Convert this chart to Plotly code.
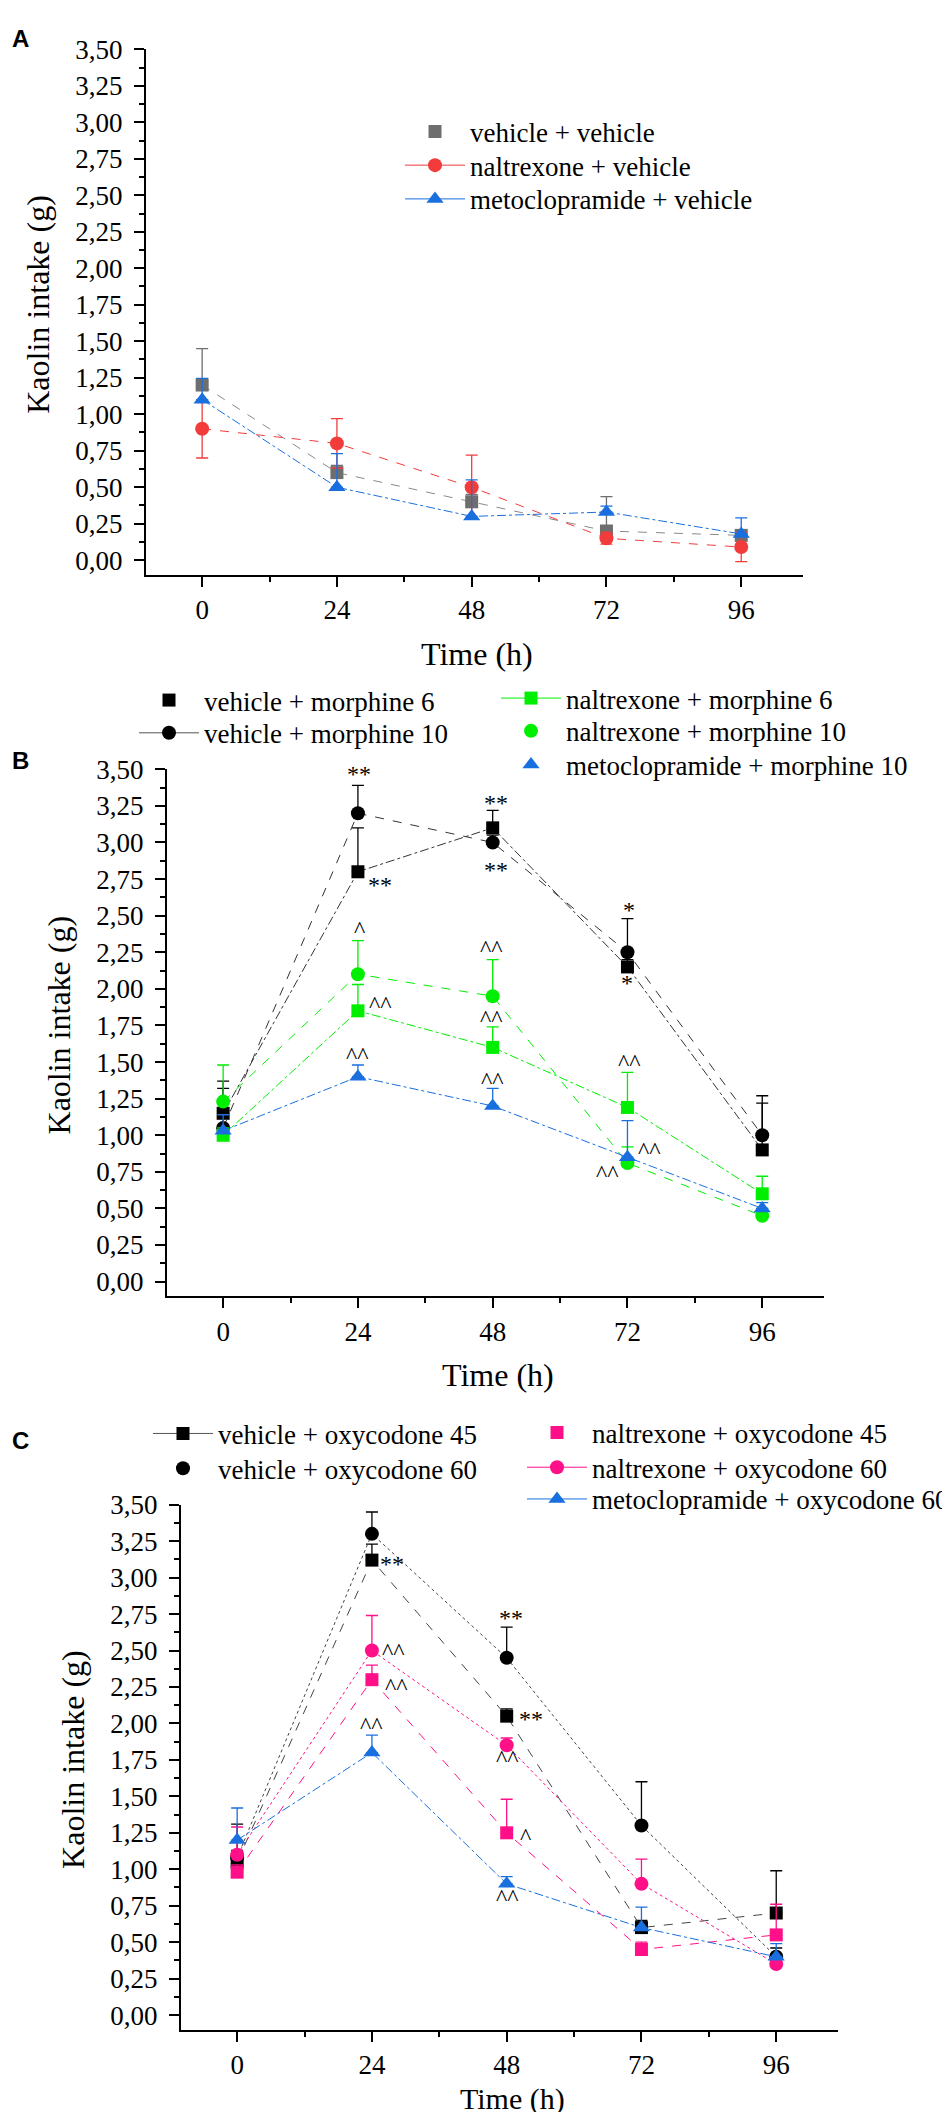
import plotly.graph_objects as go
from plotly.subplots import make_subplots

# time points (h)
hours = [0, 24, 48, 72, 96]

# Panel A - controls
veh_veh = [1.20, 0.60, 0.40, 0.20, 0.17]
veh_veh_err = [0.25, 0.05, 0.05, 0.235, 0.03]
nal_veh = [0.90, 0.80, 0.50, 0.15, 0.09]
nal_veh_err = [0.20, 0.17, 0.22, 0.04, 0.10]
met_veh = [1.10, 0.50, 0.30, 0.33, 0.18]
met_veh_err = [0.145, 0.23, 0.25, 0.04, 0.11]

# Panel B - morphine
veh_m6 = [1.15, 2.80, 3.10, 2.15, 0.90]
veh_m6_err = [0.17, 0.30, 0.12, 0.05, 0.32]
veh_m10 = [1.05, 3.20, 3.00, 2.25, 1.00]
veh_m10_err = [0.32, 0.19, 0.05, 0.23, 0.27]
nal_m6 = [1.00, 1.85, 1.60, 1.19, 0.60]
nal_m6_err = [0.05, 0.18, 0.14, 0.24, 0.12]
nal_m10 = [1.23, 2.10, 1.95, 0.81, 0.45]
nal_m10_err = [0.25, 0.23, 0.25, 0.11, 0.05]
met_m10 = [1.03, 1.40, 1.20, 0.85, 0.50]
met_m10_err = [0.11, 0.08, 0.12, 0.25, 0.04]

# Panel C - oxycodone
veh_o45 = [1.05, 3.12, 2.05, 0.60, 0.70]
veh_o45_err = [0.26, 0.11, 0.05, 0.05, 0.29]
veh_o60 = [1.08, 3.30, 2.45, 1.30, 0.40]
veh_o60_err = [0.05, 0.15, 0.21, 0.30, 0.06]
nal_o45 = [0.98, 2.30, 1.25, 0.45, 0.55]
nal_o45_err = [0.05, 0.10, 0.23, 0.05, 0.21]
nal_o60 = [1.10, 2.50, 1.85, 0.90, 0.35]
nal_o60_err = [0.19, 0.24, 0.05, 0.17, 0.05]
met_o60 = [1.20, 1.80, 0.90, 0.60, 0.40]
met_o60_err = [0.22, 0.12, 0.05, 0.14, 0.09]

# significance marks (hour, value, text)
marks_B = [(24.2, 3.47, "**"), (27.9, 2.71, "**"), (48.5, 3.27, "**"), (48.5, 2.81, "**"),
           (72.2, 2.54, "*"), (72.0, 2.04, "*"), (24.2, 2.41, "^"), (28.1, 1.90, "^^"),
           (24.0, 1.55, "^^"), (47.8, 2.28, "^^"), (47.8, 1.80, "^^"), (47.9, 1.38, "^^"),
           (72.4, 1.50, "^^"), (75.9, 0.90, "^^"), (68.4, 0.74, "^^")]
marks_C = [(24.5, 3.51, "**"), (27.6, 3.09, "**"), (48.7, 2.72, "**"), (52.3, 2.03, "**"),
           (27.9, 2.50, "^^"), (28.3, 2.26, "^^"), (24.0, 1.99, "^^"), (48.2, 1.76, "^^"),
           (51.4, 1.23, "^"), (48.2, 0.81, "^^")]

FONT = "Liberation Serif"
gray = "#6e6e6e"
red = "#f23c3c"
blue = "#1a6fdf"
green = "#00ee00"
pink = "#ff1088"
black = "#000000"

W, H = 950, 2112

fig = make_subplots(rows=3, cols=1)


def add_series(row, y, err, color, symbol, size, dash, linecolor=None, both=False):
    fig.add_trace(go.Scatter(
        x=hours, y=y, mode="lines+markers",
        line=dict(color=linecolor or color, width=1, dash=dash),
        marker=dict(color=color, symbol=symbol, size=size, line=dict(width=0)),
        error_y=dict(type="data", array=err,
                     arrayminus=err if both else [0] * len(err),
                     symmetric=False, color=color, thickness=1.3, width=6),
        showlegend=False, cliponaxis=False),
        row=row, col=1)


# A
add_series(1, veh_veh, veh_veh_err, gray, "square", 13, "dash", "#8a8a8a")
add_series(1, nal_veh, nal_veh_err, red, "circle", 14, "dash", both=True)
add_series(1, met_veh, met_veh_err, blue, "triangle-up", 15, "dashdot")
# B
add_series(2, veh_m6, veh_m6_err, black, "square", 13, "dashdot", "#333333")
add_series(2, veh_m10, veh_m10_err, black, "circle", 14, "dash", "#333333")
add_series(2, nal_m6, nal_m6_err, green, "square", 13, "dashdot")
add_series(2, nal_m10, nal_m10_err, green, "circle", 14, "dash")
add_series(2, met_m10, met_m10_err, blue, "triangle-up", 15, "dashdot")
# C
add_series(3, veh_o45, veh_o45_err, black, "square", 13, "dash", "#444444")
add_series(3, veh_o60, veh_o60_err, black, "circle", 14, "dot", "#444444")
add_series(3, nal_o45, nal_o45_err, pink, "square", 13, "dash")
add_series(3, nal_o60, nal_o60_err, pink, "circle", 14, "dot")
add_series(3, met_o60, met_o60_err, blue, "triangle-up", 15, "dashdot")

# legend entries: name, colour, symbol, size, with line, text left (px), row centre (px)
legend_items = [
    ("vehicle + vehicle", gray, "square", 13, False, 462, 109),
    ("naltrexone + vehicle", red, "circle", 14, True, 462, 143),
    ("metoclopramide + vehicle", blue, "triangle-up", 15, True, 462, 177),
    ("vehicle + morphine 6", black, "square", 13, False, 196, 682),
    ("vehicle + morphine 10", black, "circle", 14, True, 196, 715),
    ("naltrexone + morphine 6", green, "square", 13, True, 558, 680),
    ("naltrexone + morphine 10", green, "circle", 14, False, 558, 713),
    ("metoclopramide + morphine 10", blue, "triangle-up", 15, False, 558, 747),
    ("vehicle + oxycodone 45", black, "square", 13, True, 210, 1421),
    ("vehicle + oxycodone 60", black, "circle", 14, False, 210, 1456),
    ("naltrexone + oxycodone 45", pink, "square", 13, False, 584, 1420),
    ("naltrexone + oxycodone 60", pink, "circle", 14, True, 584, 1455),
    ("metoclopramide + oxycodone 60", blue, "triangle-up", 15, True, 584, 1487),
]

legends = {}
for k, (name, color, symbol, size, with_line, tx, ty) in enumerate(legend_items):
    lname = "legend" if k == 0 else "legend%d" % (k + 1)
    fig.add_trace(go.Scatter(
        x=[None], y=[None], name=name,
        mode="lines+markers" if with_line else "markers",
        line=dict(color="#555555" if color == black else color, width=1),
        marker=dict(color=color, symbol=symbol, size=size),
        legend=lname),
        row=1, col=1)
    # item centre sits 24px under the legend top, text 70px right of its left edge
    legends[lname] = dict(x=(tx - 70) / W, y=1 - (ty - 24) / H, xanchor="left", yanchor="top",
                          font=dict(family=FONT, size=27, color="black"), itemwidth=60,
                          bgcolor="rgba(0,0,0,0)", borderwidth=0)

# axis pixel boxes: (left, right, top(3.50), bottom)
boxes = [(138, 795, 26.5, 556), (159, 816, 752, 1283), (173, 830, 1493, 2022)]

for i, (l, r, t, b) in enumerate(boxes):
    row = i + 1
    fig.update_xaxes(domain=[l / W, r / W], range=[-10, 107], tick0=0, dtick=24,
                     showline=True, linecolor="black", linewidth=2, ticks="outside",
                     ticklen=10, tickwidth=1.5, tickcolor="black",
                     minor=dict(dtick=12, tick0=0, ticks="outside", ticklen=5, tickwidth=1.5, tickcolor="black"),
                     showgrid=False, zeroline=False,
                     tickfont=dict(family=FONT, size=27, color="black"), row=row, col=1)
    fig.update_yaxes(domain=[1 - b / H, 1 - t / H], range=[-0.1, 3.5], tick0=0, dtick=0.25,
                     tickformat=".2f", showline=True, linecolor="black", linewidth=2,
                     ticks="outside", ticklen=10, tickwidth=1.5, tickcolor="black",
                     minor=dict(dtick=0.125, tick0=0, ticks="outside", ticklen=5, tickwidth=1.5, tickcolor="black"),
                     showgrid=False, zeroline=False, ticklabelstandoff=6,
                     tickfont=dict(family=FONT, size=27, color="black"), row=row, col=1)
    ax = "" if row == 1 else str(row)
    # axis titles
    fig.add_annotation(x=(l - 108) / W, xref="paper", y=1.75, yref="y" + ax, text="Kaolin intake (g)",
                       textangle=-90, showarrow=False, xanchor="center", yanchor="middle",
                       font=dict(family=FONT, size=32, color="black"))
    if row < 3:
        fig.add_annotation(x=49, xref="x" + ax, y=0, yref="y" + ax + " domain", yshift=-79,
                           text="Time (h)", showarrow=False, xanchor="center", yanchor="middle",
                           font=dict(family=FONT, size=32, color="black"))
    else:
        # last title sits on the bottom edge of the page (cut off in the original)
        fig.add_annotation(x=49, xref="x" + ax, y=0, yref="paper", yshift=1,
                           text="Time (h)", showarrow=False, xanchor="center", yanchor="bottom",
                           font=dict(family=FONT, size=30, color="black"))

# significance marks
for row, marks in [(2, marks_B), (3, marks_C)]:
    for hx, vy, txt in marks:
        fig.add_annotation(x=hx, y=vy, xref="x%d" % row, yref="y%d" % row, text=txt,
                           showarrow=False, font=dict(family=FONT, size=24, color="black"))

# panel letters
for letter, py in [("A", 16), ("B", 743), ("C", 1428)]:
    fig.add_annotation(x=12 / W, y=1 - py / H, xref="paper", yref="paper", text="<b>%s</b>" % letter,
                       showarrow=False, xanchor="center", yanchor="middle",
                       font=dict(family="Liberation Sans", size=24, color="black"))

fig.update_layout(
    width=W, height=H, margin=dict(l=0, r=0, t=0, b=0),
    paper_bgcolor="white", plot_bgcolor="white", separators=",.",
    **legends
)

fig.write_html("out.html")
